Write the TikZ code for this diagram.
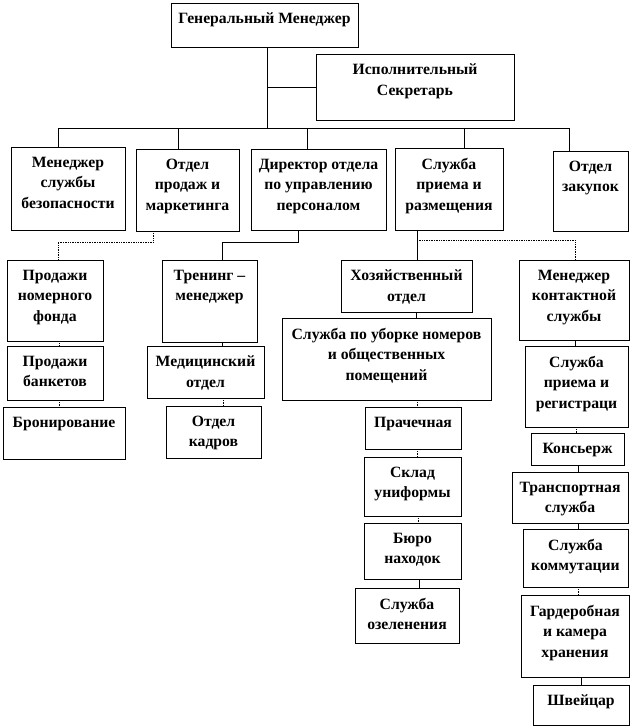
\documentclass[tikz,border=0pt]{standalone}
\usepackage{fontspec}
\setmainfont{Liberation Serif}
\tikzset{
  dept/.style 2 args={ % style for each box, given its width and height
    rectangle,draw,line width=0.7pt, % drawn as a thin rectangle
    inner sep=0pt, % the text is set by the label, not by the node
    minimum width=#1pt,
    minimum height=#2pt,
  },
  depttext/.style={ % style for the text at the top of each box
    anchor=north,yshift=-10pt, % hang the text from the top edge
    inner sep=0pt,
    align=center,
    font=\bfseries\fontsize{15.7}{20.5}\selectfont,
  },
  link/.style={ % style for the solid connections
    line width=0.7pt,
  },
  dlink/.style={ % style for the dotted connections
    link, % inherit the link style
    densely dotted,
  },
}

\begin{document}
\begin{tikzpicture}[x=1pt,y=-1pt]

	\useasboundingbox (0,0) rectangle (632,727);

	\node[dept={187}{44},label={[depttext]north:Генеральный Менеджер}] (gm) at (264.5,25) {};
	\node[dept={198}{66},label={[depttext]north:{Исполнительный\\Секретарь}}] (sec) at (415,87) {};

	\node[dept={114}{83},label={[depttext]north:{Менеджер\\службы\\безопасности}}] (bez) at (68,188.5) {};
	\node[dept={103}{82},label={[depttext]north:{Отдел\\продаж и\\маркетинга}}] (mark) at (187.5,190) {};
	\node[dept={135}{81},label={[depttext]north:{Директор отдела\\по управлению\\персоналом}}] (pers) at (318.5,189.5) {};
	\node[dept={108}{82},label={[depttext]north:{Служба\\приема и\\размещения}}] (razm) at (449,189) {};
	\node[dept={75}{80},label={[depttext]north:{Отдел\\закупок}}] (zak) at (590.5,191) {};

	\node[dept={96}{81},label={[depttext]north:{Продажи\\номерного\\фонда}}] (prod1) at (55,300.5) {};
	\node[dept={96}{54},label={[depttext]north:{Продажи\\банкетов}}] (prod2) at (55,373) {};
	\node[dept={122}{52},label={[depttext]north:Бронирование}] (bron) at (64,433) {};

	\node[dept={95}{82},label={[depttext]north:{Тренинг –\\менеджер}}] (tren) at (209.5,301) {};
	\node[dept={117}{52},label={[depttext]north:{Медицинский\\отдел}}] (med) at (205.5,372) {};
	\node[dept={95}{52},label={[depttext]north:{Отдел\\кадров}}] (kadr) at (213.5,432) {};

	\node[dept={131}{52},label={[depttext]north:{Хозяйственный\\отдел}}] (hoz) at (406.5,286) {};
	\node[dept={209}{82},label={[depttext]north:{Служба по уборке номеров\\и общественных\\помещений}}] (ubor) at (386.5,359) {};
	\node[dept={96}{42},label={[depttext]north:Прачечная}] (prach) at (413,428) {};
	\node[dept={97}{59},label={[depttext]north:{Склад\\униформы}}] (sklad) at (412.5,486.5) {};
	\node[dept={97}{56},label={[depttext]north:{Бюро\\находок}}] (buro) at (412.5,551) {};
	\node[dept={104}{55},label={[depttext]north:{Служба\\озеленения}}] (ozel) at (407,615.5) {};

	\node[dept={110}{80},label={[depttext]north:{Менеджер\\контактной\\службы}}] (kont) at (574,300) {};
	\node[dept={103}{81},label={[depttext]north:{Служба\\приема и\\регистраци}}] (reg) at (576.5,386.5) {};
	\node[dept={93}{32},label={[depttext]north:Консьерж}] (kons) at (577.5,449) {};
	\node[dept={116}{51},label={[depttext]north:{Транспортная\\служба}}] (trans) at (570,497.5) {};
	\node[dept={105}{58},label={[depttext]north:{Служба\\коммутации}}] (komm) at (575.5,558) {};
	\node[dept={108}{82},label={[depttext]north:{Гардеробная\\и камера\\хранения}}] (gard) at (575,636) {};
	\node[dept={96}{40},label={[depttext]north:Швейцар}] (shv) at (581,705) {};

	\coordinate (bus) at (267,128);

	\draw[link] ([xshift=2.5pt]gm.south) -- (bus);
	\draw[link] (bus |- sec.west) -- (sec.west);

	\draw[link] (bus) -| ([xshift=-10pt]bez.north);
	\draw[link] (bus) -| ([xshift=-9.5pt]mark.north);
	\draw[link] (bus) -| ([xshift=-11.5pt]pers.north);
	\draw[link] (bus) -| ([xshift=15pt]razm.north);
	\draw[link] (bus) -| ([xshift=-21.5pt]zak.north);

	\draw[dlink] ([xshift=-34.5pt]mark.south) -- ++(0,11) -| ([xshift=3pt]prod1.north);
	\draw[dlink] ([xshift=4pt]prod1.south) -- ([xshift=4pt]prod2.north);
	\draw[dlink] ([xshift=4pt]prod2.south) -- ([xshift=-5pt]bron.north);

	\draw[link] ([xshift=-20.5pt]pers.south) -- ++(0,12) -| ([xshift=12.5pt]tren.north);
	\draw[link] ([xshift=12.5pt]tren.south) -- ([xshift=16.5pt]med.north);
	\draw[dlink] ([xshift=17.5pt]med.south) -- ([xshift=9.5pt]kadr.north);

	\draw[link] ([xshift=-32pt]razm.south) -- ([xshift=10.5pt]hoz.north);
	\draw[dlink] ([xshift=-32pt,yshift=-10pt]razm.south) -| ([xshift=1pt]kont.north);

	\draw[link] ([xshift=9.5pt]hoz.south) -- ([xshift=29.5pt]ubor.north);
	\draw[dlink] ([xshift=30.5pt]ubor.south) -- ([xshift=4pt]prach.north);
	\draw[dlink] ([xshift=4pt]prach.south) -- ([xshift=4.5pt]sklad.north);
	\draw[dlink] ([xshift=5.5pt]sklad.south) -- ([xshift=5.5pt]buro.north);
	\draw[link] ([xshift=6.5pt]buro.south) -- ([xshift=12pt]ozel.north);

	\draw[link] ([xshift=1pt]kont.south) -- ([xshift=-1.5pt]reg.north);
	\draw[dlink] ([xshift=-0.5pt]reg.south) -- ([xshift=-1.5pt]kons.north);
	\draw[link] ([xshift=0.5pt]kons.south) -- ([xshift=8pt]trans.north);
	\draw[link] ([xshift=8pt]trans.south) -- ([xshift=2.5pt]komm.north);
	\draw[dlink] ([xshift=2.5pt]komm.south) -- ([xshift=3pt]gard.north);
	\draw[link] ([xshift=6pt]gard.south) -- (shv.north);

\end{tikzpicture}
\end{document}
